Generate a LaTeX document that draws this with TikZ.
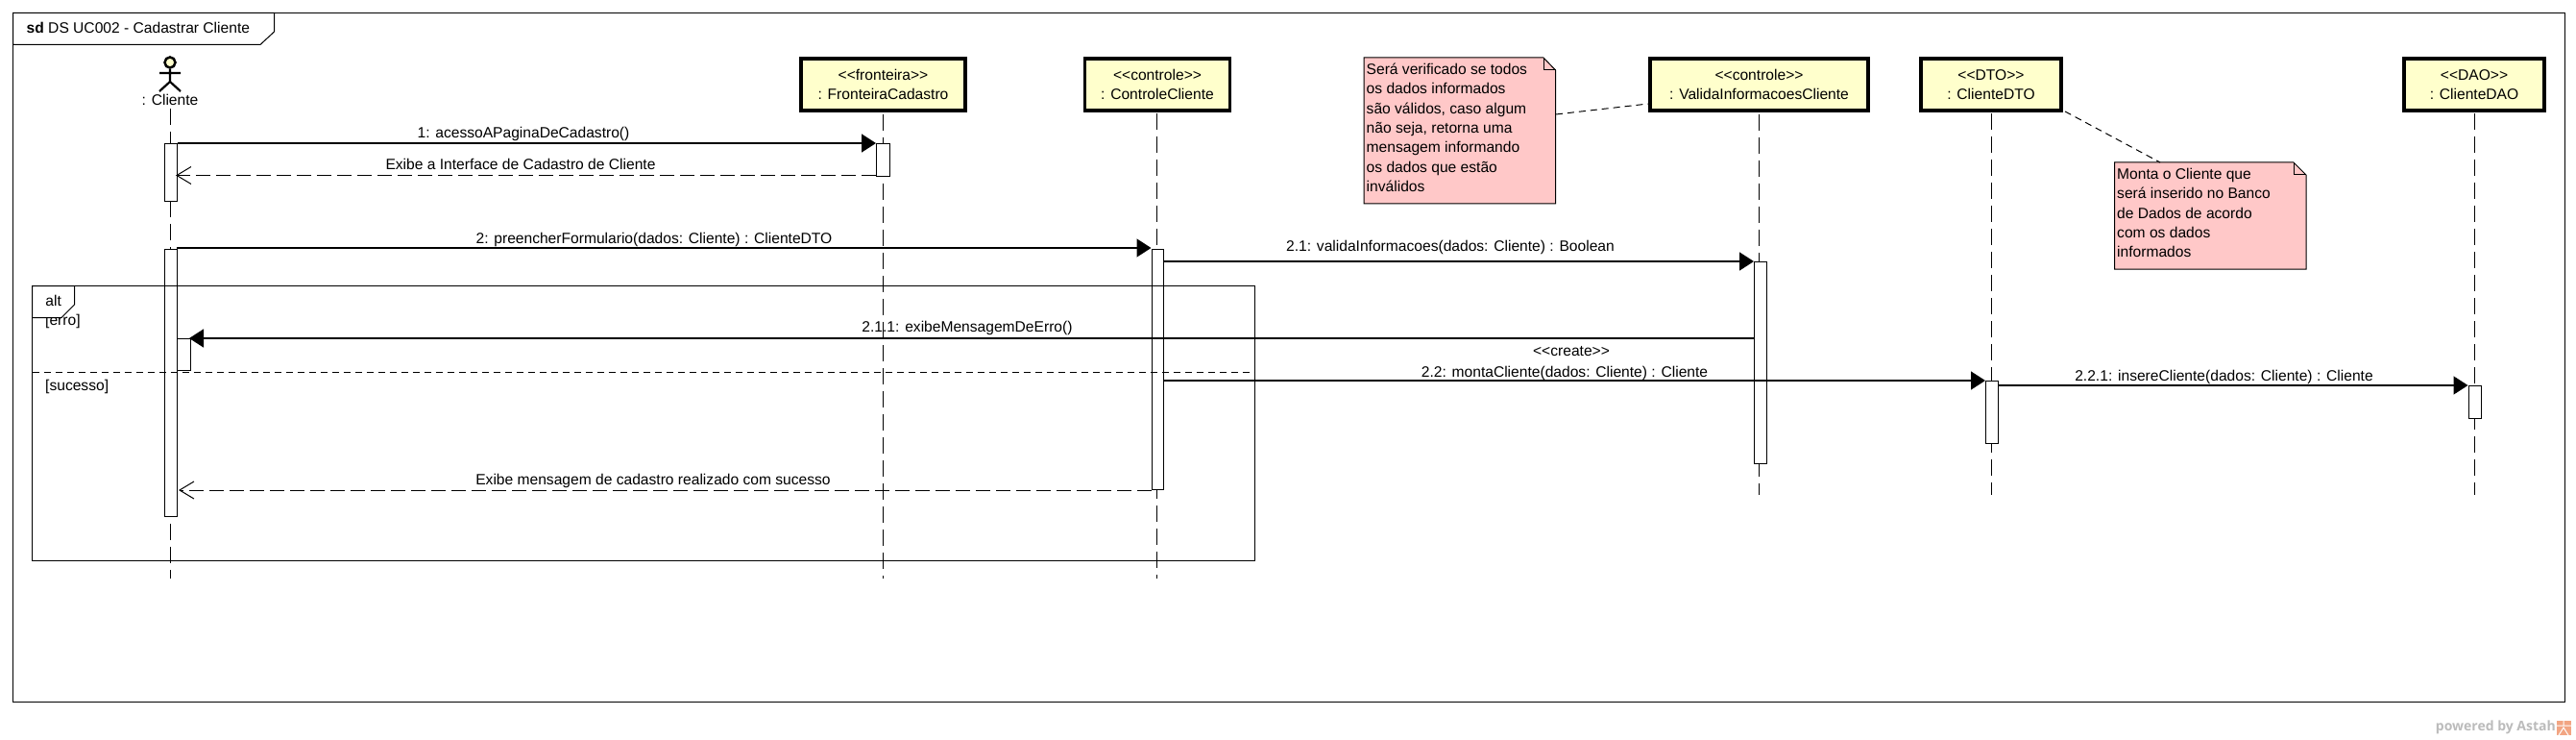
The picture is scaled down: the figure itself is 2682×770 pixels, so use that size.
\documentclass[tikz,border=0pt]{standalone}
\usepackage{fontspec}
\setmainfont{Liberation Sans}
\newfontfamily\astahfont{Open Sans}
\usetikzlibrary{arrows.meta}
\definecolor{boxyellow}{HTML}{FFFFCC}
\definecolor{notepink}{HTML}{FFC8C8}
\definecolor{astahgray}{HTML}{BBBBBB}
\definecolor{astahorange}{HTML}{F2A583}
\tikzset{
  lbl/.style={font=\fontsize{15.6}{18}\selectfont, inner sep=0pt, text height=11pt, text depth=3pt},
  lifebox/.style={draw=black, line width=3.5pt, fill=boxyellow, align=center, inner sep=0pt,
    minimum height=54pt, font=\fontsize{15.6}{20}\selectfont},
  lifeline/.style={draw=black, line width=1pt, dash pattern=on 17pt off 7pt},
  activation/.style={draw=black, line width=1pt, fill=white, inner sep=0pt, anchor=north west},
  syncmsg/.style={draw=black, line width=1.4pt, -{Triangle[length=15pt,width=19pt]}},
  retmsg/.style={draw=black, line width=1pt, dash pattern=on 15pt off 6pt, -{Straight Barb[length=15pt,width=18pt,line width=1pt]}},
  notelink/.style={draw=black, line width=1pt, dash pattern=on 7pt off 5pt},
  notebox/.style={inner sep=0pt, anchor=north west},
  notetext/.style={inner sep=0pt, anchor=north west, align=left, font=\fontsize{15.6}{20.3}\selectfont},
  noteshape/.style={draw=black, line width=1pt, fill=notepink}
}
\begin{document}
\begin{tikzpicture}[x=1pt,y=-1pt]
\useasboundingbox (0,0) rectangle (2682,770);
% diagram frame
\draw[black, line width=1pt] (13.5,13.5) rectangle (2670.5,730.5);
\draw[black, line width=1pt, fill=white] (13.5,13.5) -- (285.5,13.5) -- (285.5,33) -- (271,46.5) -- (13.5,46.5) -- cycle;
\node[lbl, anchor=west] (title) at (27.5,31) {\textbf{sd} DS UC002 - Cadastrar Cliente};

% actor
\node[circle, draw=black, line width=2.5pt, fill=boxyellow, minimum size=11pt, inner sep=0pt] (head) at (177,65) {};
\coordinate (body) at (177,85);
\coordinate (armL) at (166,76);
\coordinate (armR) at (188,76);
\coordinate (legL) at (166,95);
\coordinate (legR) at (188,95);
\draw[black, line width=2.2pt] (head) -- (body) (armL) -- (armR) (legL) -- (body) -- (legR);
\node[lbl] (actor) at (177,106) {: Cliente};

% lifeline heads
\node[lifebox, minimum width=171pt] (fron) at (919.5,88) {<{}<fronteira>{}>\\: FronteiraCadastro};
\node[lifebox, minimum width=151pt] (ctrl) at (1205,88) {<{}<controle>{}>\\: ControleCliente};
\node[lifebox, minimum width=227pt] (vali) at (1831.5,88) {<{}<controle>{}>\\: ValidaInformacoesCliente};
\node[lifebox, minimum width=146pt] (dto) at (2073,88) {<{}<DTO>{}>\\: ClienteDTO};
\node[lifebox, minimum width=146pt] (dao) at (2576,88) {<{}<DAO>{}>\\: ClienteDAO};

% lifeline ends
\coordinate (endA) at (177.5,602);
\coordinate (endF) at (919.5,602);
\coordinate (endC) at (1204.5,602);
\coordinate (endV) at (1831.5,515);
\coordinate (endD) at (2073.5,515);
\coordinate (endO) at (2576.5,515);
\draw[lifeline] (177.5,113) -- (endA);
\draw[lifeline] (fron.south) ++(0,2) -- (endF);
\draw[lifeline] (1204.5,118) -- (endC);
\draw[lifeline] (vali.south) ++(0,2) -- (endV);
\draw[lifeline] (2073.5,118) -- (endD);
\draw[lifeline] (2576.5,118) -- (endO);

% activations
\node[activation, minimum width=13.5pt, minimum height=60pt] (a1) at (170.5,149) {};
\node[activation, minimum width=14pt, minimum height=34pt] (af) at (912,149) {};
\node[activation, minimum width=13.5pt, minimum height=278pt] (a2) at (170.5,259) {};
\node[activation, minimum width=14pt, minimum height=33pt] (a3) at (184,352) {};
\node[activation, minimum width=12.5pt, minimum height=250pt] (ac) at (1198.5,259) {};
\node[activation, minimum width=12.5pt, minimum height=210pt] (av) at (1826,272) {};
\node[activation, minimum width=13pt, minimum height=65pt] (ad) at (2067,396) {};
\node[activation, minimum width=13pt, minimum height=34pt] (ao) at (2569.5,401) {};

% combined fragment
\draw[black, line width=1pt] (33.5,297.5) rectangle (1306.5,583.5);
\draw[black, line width=1.4pt, dash pattern=on 7pt off 5pt] (33.5,387.5) -- (1306.5,387.5);
\node[lbl, anchor=west] (erro) at (47,334) {[erro]};
\node[lbl, anchor=west] (suce) at (47,402) {[sucesso]};
\draw[black, line width=1pt, fill=white] (33.5,297.5) -- (77.5,297.5) -- (77.5,317) -- (64,330.5) -- (33.5,330.5) -- cycle;
\node[lbl] (alt) at (55.7,314) {alt};

% notes
\coordinate (n1a) at (1420,60);
\coordinate (n1b) at (1607,60);
\coordinate (n1c) at (1619.5,73);
\coordinate (n1d) at (1619.5,212);
\coordinate (n1e) at (1420,212);
\draw[noteshape] (n1a) -- (n1b) -- (n1c) -- (n1d) -- (n1e) -- cycle;
\draw[black, line width=1pt] (n1b) -- (1607,73) -- (n1c);
\node[notetext] (note1) at (1422.5,66) {Será verificado se todos\\os dados informados\\são válidos, caso algum\\não seja, retorna uma\\mensagem informando\\os dados que estão\\inválidos};
\coordinate (n1link) at (1620,119);
\coordinate (vlink) at (1716,108);
\draw[notelink] (n1link) -- (vlink);

\coordinate (n2a) at (2201.5,169);
\coordinate (n2b) at (2388,169);
\coordinate (n2c) at (2401,182);
\coordinate (n2d) at (2401,280);
\coordinate (n2e) at (2201.5,280);
\draw[noteshape] (n2a) -- (n2b) -- (n2c) -- (n2d) -- (n2e) -- cycle;
\draw[black, line width=1pt] (n2b) -- (2388,182) -- (n2c);
\node[notetext] (note2) at (2204,175) {Monta o Cliente que\\será inserido no Banco\\de Dados de acordo\\com os dados\\informados};
\coordinate (dlink) at (2150,116);
\coordinate (n2link) at (2249,169);
\draw[notelink] (dlink) -- (n2link);

% messages
\draw[syncmsg] (a1.north east) -- (af.north west);
\coordinate (r1s) at (912,182.5);
\coordinate (r1e) at (183,182.5);
\draw[retmsg] (r1s) -- (r1e);
\coordinate (m2s) at (184,258);
\coordinate (m2e) at (1198.5,258);
\draw[syncmsg] (m2s) -- (m2e);
\draw[syncmsg] (ac.north east |- av.north west) -- (av.north west);
\coordinate (m211s) at (1826,352);
\draw[syncmsg, shorten >=-2pt] (m211s) -- (a3.north east);
\coordinate (m22s) at (1211,396);
\draw[syncmsg] (m22s) -- (ad.north west);
\coordinate (m221s) at (2080,401);
\draw[syncmsg] (m221s) -- (ao.north west);
\draw[retmsg, shorten >=1pt] (ac.south west) -- (a2.east |- ac.south west);

% message labels
\node[lbl] (l1) at (545,140) {1: acessoAPaginaDeCadastro()};
\node[lbl] (l1r) at (542,173) {Exibe a Interface de Cadastro de Cliente};
\node[lbl] (l2) at (681,249) {2: preencherFormulario(dados: Cliente) : ClienteDTO};
\node[lbl] (l21) at (1510,257) {2.1: validaInformacoes(dados: Cliente) : Boolean};
\node[lbl] (l211) at (1007,341) {2.1.1: exibeMensagemDeErro()};
\node[lbl] (lcr) at (1636,366) {<{}<create>{}>};
\node[lbl] (l22) at (1629,388) {2.2: montaCliente(dados: Cliente) : Cliente};
\node[lbl] (l221) at (2315.5,392) {2.2.1: insereCliente(dados: Cliente) : Cliente};
\node[lbl] (l2r) at (680,500) {Exibe mensagem de cadastro realizado com sucesso};

% watermark
\node[inner sep=0pt, anchor=east, text=astahgray, font=\astahfont\bfseries\fontsize{14}{16}\selectfont] (astah) at (2661,757) {powered by Astah};
\fill[astahorange] (2661.5,750) rectangle (2677,765);
\draw[white, line width=1pt] (2661.5,755) -- (2677,755) (2669,750) -- (2669,755) (2664,765) -- (2669,757) -- (2674,765);
\end{tikzpicture}
\end{document}
